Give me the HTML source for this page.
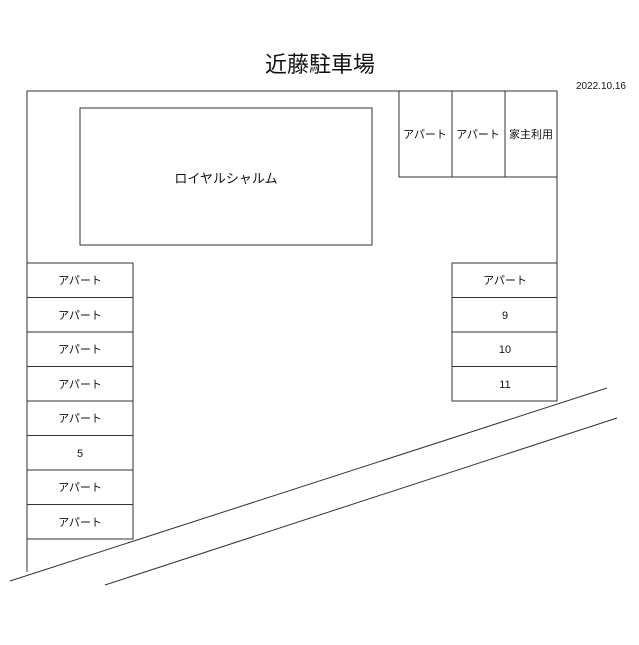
<!DOCTYPE html><html><head><meta charset="utf-8"><style>body{margin:0;background:#fff}</style></head><body>
<svg width="639" height="640" xmlns="http://www.w3.org/2000/svg" font-family="Liberation Sans, Noto Sans CJK JP, sans-serif" fill="none" stroke="#333" stroke-width="1">
<text x="320" y="72" font-size="22" text-anchor="middle" fill="#111" stroke="none">近藤駐車場</text>
<text x="626" y="89" font-size="10" text-anchor="end" fill="#111" stroke="none">2022.10.16</text>
<polyline points="27,572 27,91 557,91 557,263"/>
<rect x="80" y="108" width="292" height="137"/>
<text x="226" y="183" font-size="13" text-anchor="middle" fill="#111" stroke="none">ロイヤルシャルム</text>
<rect x="399" y="91" width="53" height="86"/><rect x="452" y="91" width="53" height="86"/><rect x="505" y="91" width="52" height="86"/>
<g font-size="11" text-anchor="middle" fill="#111" stroke="none">
<text x="425" y="138">アパート</text><text x="478" y="138">アパート</text><text x="531" y="138">家主利用</text>
</g>
<g>
<rect x="27" y="263" width="106" height="34.5"/><rect x="27" y="297.5" width="106" height="34.5"/><rect x="27" y="332" width="106" height="34.5"/><rect x="27" y="366.5" width="106" height="34.5"/><rect x="27" y="401" width="106" height="34.5"/><rect x="27" y="435.5" width="106" height="34.5"/><rect x="27" y="470" width="106" height="34.5"/><rect x="27" y="504.5" width="106" height="34.5"/>
<rect x="452" y="263" width="105" height="34.5"/><rect x="452" y="297.5" width="105" height="34.5"/><rect x="452" y="332" width="105" height="34.5"/><rect x="452" y="366.5" width="105" height="34.5"/>
</g>
<g font-size="11" text-anchor="middle" fill="#111" stroke="none">
<text x="80" y="284">アパート</text><text x="80" y="319">アパート</text><text x="80" y="353">アパート</text><text x="80" y="388">アパート</text><text x="80" y="422">アパート</text><text x="80" y="457">5</text><text x="80" y="491">アパート</text><text x="80" y="526">アパート</text>
<text x="505" y="284">アパート</text><text x="505" y="319">9</text><text x="505" y="353">10</text><text x="505" y="388">11</text>
</g>
<line x1="10" y1="581" x2="607" y2="388"/>
<line x1="105" y1="585" x2="617" y2="418"/>
</svg></body></html>
